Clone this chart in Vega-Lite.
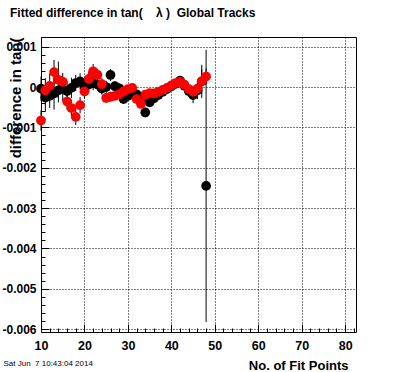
{
  "$schema": "https://vega.github.io/schema/vega-lite/v6.json",
  "width": 315,
  "height": 295,
  "autosize": {"type": "none"},
  "padding": {"left": 41, "top": 37, "right": 40, "bottom": 40},
  "background": "white",
  "title": {
    "text": "Fitted difference in tan(\u00a0\u00a0\u00a0\u00a0λ\u00a0)\u00a0\u00a0Global Tracks",
    "anchor": "start", "frame": "group", "dx": -31, "offset": 8,
    "baseline": "alphabetic", "font": "Liberation Sans", "fontSize": 12,
    "fontWeight": "bold", "color": "black"
  },
  "config": {
    "view": {"stroke": "black", "strokeWidth": 1},
    "axis": {
      "labelFont": "Liberation Sans", "titleFont": "Liberation Sans",
      "labelColor": "black", "titleColor": "black", "tickColor": "black",
      "gridColor": "black", "domain": false
    }
  },
  "data": {
    "values": [
      {"n": 10, "s": "k", "v": -0.00004, "lo": -0.00034, "hi": 0.00026},
      {"n": 11, "s": "k", "v": -0.00026, "lo": -0.00061, "hi": 0.00009},
      {"n": 12, "s": "k", "v": -0.00022, "lo": -0.00052, "hi": 0.00008},
      {"n": 13, "s": "k", "v": -0.00016, "lo": -0.00056, "hi": 0.00024},
      {"n": 14, "s": "k", "v": -0.00008, "lo": -0.00038, "hi": 0.00022},
      {"n": 15, "s": "k", "v": -0.00004, "lo": -0.00034, "hi": 0.00026},
      {"n": 16, "s": "k", "v": -0.0001, "lo": -0.00035, "hi": 0.00015},
      {"n": 17, "s": "k", "v": -0.00002, "lo": -0.00027, "hi": 0.00023},
      {"n": 18, "s": "k", "v": 0.0001, "lo": -0.0001, "hi": 0.0003},
      {"n": 19, "s": "k", "v": 0.00014, "lo": -0.00006, "hi": 0.00034},
      {"n": 20, "s": "k", "v": 0.00002, "lo": -0.00018, "hi": 0.00022},
      {"n": 21, "s": "k", "v": 0.00006, "lo": -0.00012, "hi": 0.00024},
      {"n": 22, "s": "k", "v": 0.0001, "lo": -0.00008, "hi": 0.00028},
      {"n": 23, "s": "k", "v": 0.00006, "lo": -0.00009, "hi": 0.00021},
      {"n": 24, "s": "k", "v": -0.00004, "lo": -0.00019, "hi": 0.00011},
      {"n": 25, "s": "k", "v": 0.0, "lo": -0.00015, "hi": 0.00015},
      {"n": 26, "s": "k", "v": 0.0003, "lo": 0.00015, "hi": 0.00045},
      {"n": 27, "s": "k", "v": 0.00002, "lo": -0.0001, "hi": 0.00014},
      {"n": 28, "s": "k", "v": -0.00003, "lo": -0.00015, "hi": 0.00009},
      {"n": 29, "s": "k", "v": -0.0003, "lo": -0.00042, "hi": -0.00018},
      {"n": 30, "s": "k", "v": -0.00022, "lo": -0.00032, "hi": -0.00012},
      {"n": 31, "s": "k", "v": -0.00016, "lo": -0.00026, "hi": -0.00006},
      {"n": 32, "s": "k", "v": -0.00018, "lo": -0.00028, "hi": -0.00008},
      {"n": 33, "s": "k", "v": -0.00035, "lo": -0.00045, "hi": -0.00025},
      {"n": 34, "s": "k", "v": -0.00063, "lo": -0.00075, "hi": -0.00051},
      {"n": 35, "s": "k", "v": -0.00038, "lo": -0.00048, "hi": -0.00028},
      {"n": 36, "s": "k", "v": -0.00028, "lo": -0.00037, "hi": -0.00019},
      {"n": 37, "s": "k", "v": -0.0002, "lo": -0.00029, "hi": -0.00011},
      {"n": 38, "s": "k", "v": -0.00012, "lo": -0.00021, "hi": -0.00003},
      {"n": 39, "s": "k", "v": -0.00005, "lo": -0.00014, "hi": 0.00004},
      {"n": 40, "s": "k", "v": 0.00002, "lo": -0.00008, "hi": 0.00012},
      {"n": 41, "s": "k", "v": 0.00008, "lo": -0.00002, "hi": 0.00018},
      {"n": 42, "s": "k", "v": 0.00016, "lo": 0.00005, "hi": 0.00027},
      {"n": 43, "s": "k", "v": 0.00003, "lo": -0.00009, "hi": 0.00015},
      {"n": 44, "s": "k", "v": -0.0001, "lo": -0.00024, "hi": 0.00004},
      {"n": 45, "s": "k", "v": -0.0002, "lo": -0.0004, "hi": 0.0},
      {"n": 46, "s": "k", "v": -0.00008, "lo": -0.0003, "hi": 0.00014},
      {"n": 47, "s": "k", "v": 0.00014, "lo": -0.00027, "hi": 0.00055},
      {"n": 48, "s": "k", "v": -0.00245, "lo": -0.00582, "hi": 0.00092},
      {"n": 10, "s": "r", "v": -0.00083, "lo": -0.00108, "hi": -0.00058},
      {"n": 11, "s": "r", "v": -0.00008, "lo": -0.00038, "hi": 0.00022},
      {"n": 12, "s": "r", "v": 0.00003, "lo": -0.00027, "hi": 0.00033},
      {"n": 13, "s": "r", "v": 0.00037, "lo": 0.00007, "hi": 0.00067},
      {"n": 14, "s": "r", "v": 0.00018, "lo": -0.00027, "hi": 0.00063},
      {"n": 15, "s": "r", "v": 0.00013, "lo": -0.00009, "hi": 0.00035},
      {"n": 16, "s": "r", "v": -0.00036, "lo": -0.00056, "hi": -0.00016},
      {"n": 17, "s": "r", "v": -0.00052, "lo": -0.00072, "hi": -0.00032},
      {"n": 18, "s": "r", "v": -0.00074, "lo": -0.00094, "hi": -0.00054},
      {"n": 19, "s": "r", "v": -0.00045, "lo": -0.00065, "hi": -0.00025},
      {"n": 20, "s": "r", "v": -0.00011, "lo": -0.00029, "hi": 0.00007},
      {"n": 21, "s": "r", "v": 0.0002, "lo": 0.00002, "hi": 0.00038},
      {"n": 22, "s": "r", "v": 0.00039, "lo": 0.00021, "hi": 0.00057},
      {"n": 23, "s": "r", "v": 0.0003, "lo": 0.00015, "hi": 0.00045},
      {"n": 24, "s": "r", "v": 0.00007, "lo": -0.00008, "hi": 0.00022},
      {"n": 25, "s": "r", "v": -0.00027, "lo": -0.00039, "hi": -0.00015},
      {"n": 26, "s": "r", "v": -0.00024, "lo": -0.00036, "hi": -0.00012},
      {"n": 27, "s": "r", "v": -0.00022, "lo": -0.00032, "hi": -0.00012},
      {"n": 28, "s": "r", "v": -0.00018, "lo": -0.00028, "hi": -0.00008},
      {"n": 29, "s": "r", "v": -0.00011, "lo": -0.00021, "hi": -0.00001},
      {"n": 30, "s": "r", "v": -0.00005, "lo": -0.00015, "hi": 0.00005},
      {"n": 31, "s": "r", "v": -0.00002, "lo": -0.00012, "hi": 0.00008},
      {"n": 32, "s": "r", "v": -0.0003, "lo": -0.0004, "hi": -0.0002},
      {"n": 33, "s": "r", "v": -0.00042, "lo": -0.00052, "hi": -0.00032},
      {"n": 34, "s": "r", "v": -0.00019, "lo": -0.00029, "hi": -0.00009},
      {"n": 35, "s": "r", "v": -0.00015, "lo": -0.00025, "hi": -0.00005},
      {"n": 36, "s": "r", "v": -0.00016, "lo": -0.00025, "hi": -0.00007},
      {"n": 37, "s": "r", "v": -0.00012, "lo": -0.00021, "hi": -0.00003},
      {"n": 38, "s": "r", "v": -0.00007, "lo": -0.00016, "hi": 0.00002},
      {"n": 39, "s": "r", "v": -0.00002, "lo": -0.00011, "hi": 0.00007},
      {"n": 40, "s": "r", "v": 0.00004, "lo": -0.00006, "hi": 0.00014},
      {"n": 41, "s": "r", "v": 0.0001, "lo": 0.0, "hi": 0.0002},
      {"n": 42, "s": "r", "v": 0.00013, "lo": 0.00002, "hi": 0.00024},
      {"n": 43, "s": "r", "v": 0.00006, "lo": -0.00006, "hi": 0.00018},
      {"n": 44, "s": "r", "v": -0.00005, "lo": -0.00018, "hi": 0.00008},
      {"n": 45, "s": "r", "v": -0.00012, "lo": -0.00027, "hi": 0.00003},
      {"n": 46, "s": "r", "v": -0.00004, "lo": -0.00024, "hi": 0.00016},
      {"n": 47, "s": "r", "v": 0.00014, "lo": -0.00016, "hi": 0.00044},
      {"n": 48, "s": "r", "v": 0.00026, "lo": 0.00006, "hi": 0.00046}
    ]
  },
  "layer": [
    {
      "mark": {"type": "point", "opacity": 0},
      "encoding": {
        "x": {
          "field": "n", "type": "quantitative",
          "scale": {"domain": [10, 82.5], "nice": false, "zero": false},
          "axis": {
            "orient": "bottom",
            "values": [12, 14, 16, 18, 22, 24, 26, 28, 32, 34, 36, 38, 42, 44, 46, 48, 52, 54, 56, 58, 62, 64, 66, 68, 72, 74, 76, 78, 82],
            "tickSize": -4, "labels": false, "grid": false,
            "title": "Sat Jun\u00a0\u00a07 10:43:04 2014",
            "titleFontSize": 8, "titleFontWeight": "normal",
            "titleX": -38, "titleY": 33, "titleAlign": "left",
            "titleAnchor": "start", "titleBaseline": "alphabetic"
          }
        },
        "y": {
          "field": "v", "type": "quantitative",
          "scale": {"domain": [-0.00607, 0.00124], "nice": false, "zero": false},
          "axis": {
            "orient": "left",
            "values": [0.0008, 0.0006, 0.0004, 0.0002, -0.0002, -0.0004, -0.0006, -0.0008, -0.0012, -0.0014, -0.0016, -0.0018, -0.0022, -0.0024, -0.0026, -0.0028, -0.0032, -0.0034, -0.0036, -0.0038, -0.0042, -0.0044, -0.0046, -0.0048, -0.0052, -0.0054, -0.0056, -0.0058],
            "tickSize": -4, "labels": false, "grid": false, "title": null
          }
        }
      }
    },
    {
      "encoding": {
        "x": {
          "field": "n", "type": "quantitative",
          "scale": {"domain": [10, 82.5], "nice": false, "zero": false},
          "axis": {
            "orient": "bottom",
            "values": [10, 20, 30, 40, 50, 60, 70, 80],
            "grid": true, "gridDash": [1, 2], "gridWidth": 1,
            "tickSize": -8, "labelPadding": 15, "labelBaseline": "top",
            "labelFontSize": 12.5, "labelFontWeight": "bold", "labelFlush": false,
            "title": "No. of Fit Points", "titleFontSize": 13, "titleFontWeight": "bold",
            "titleX": 307, "titleY": 37, "titleAlign": "right", "titleAnchor": "end",
            "titleBaseline": "alphabetic"
          }
        },
        "y": {
          "type": "quantitative",
          "scale": {"domain": [-0.00607, 0.00124], "nice": false, "zero": false},
          "axis": {
            "orient": "left",
            "values": [0.001, 0, -0.001, -0.002, -0.003, -0.004, -0.005, -0.006],
            "labelExpr": "replace(format(datum.value, '.3~f'), '\u2212', '-')",
            "grid": true, "gridDash": [1, 2], "gridWidth": 1,
            "tickSize": -8, "labelPadding": 13, "labelBaseline": "middle",
            "labelFontSize": 12, "labelFontWeight": "bold", "labelFlush": false,
            "title": "difference in tan(", "titleFontSize": 15, "titleFontWeight": "bold",
            "titleX": -20.5, "titleY": 0, "titleAngle": -90, "titleAlign": "right",
            "titleAnchor": "end", "titleBaseline": "alphabetic"
          }
        }
      },
      "layer": [
        {
          "transform": [{"filter": "datum.s == 'k'"}],
          "mark": {"type": "rule", "color": "black", "strokeWidth": 1},
          "encoding": {"y": {"field": "lo", "type": "quantitative"}, "y2": {"field": "hi"}}
        },
        {
          "transform": [{"filter": "datum.s == 'k'"}],
          "mark": {"type": "point", "filled": true, "shape": "circle", "size": 95, "color": "black", "opacity": 1},
          "encoding": {"y": {"field": "v", "type": "quantitative"}}
        },
        {
          "transform": [{"filter": "datum.s == 'r'"}],
          "mark": {"type": "rule", "color": "black", "strokeWidth": 1},
          "encoding": {"y": {"field": "lo", "type": "quantitative"}, "y2": {"field": "hi"}}
        },
        {
          "transform": [{"filter": "datum.s == 'r'"}],
          "mark": {"type": "point", "filled": true, "shape": "circle", "size": 95, "color": "#ff0000", "opacity": 1},
          "encoding": {"y": {"field": "v", "type": "quantitative"}}
        }
      ]
    }
  ],
  "resolve": {"axis": {"x": "independent", "y": "independent"}}
}
